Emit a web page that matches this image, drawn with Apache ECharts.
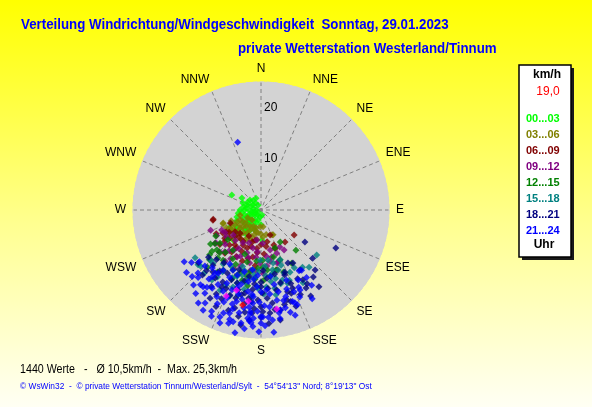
<!DOCTYPE html>
<html>
<head>
<meta charset="utf-8">
<script src="https://cdn.jsdelivr.net/npm/echarts@6/dist/echarts.min.js"></script>
<style>
html, body { margin: 0; padding: 0; }
#main { width: 592px; height: 407px; }
</style>
</head>
<body>
<div id="main"></div>
<script>
'use strict'
// Windrose scatter, 29.01.2023 - points are [km/h, direction in degrees]

var dirNames = ['N', 'NNE', 'NE', 'ENE', 'E', 'ESE', 'SE', 'SSE', 'S', 'SSW', 'SW', 'WSW', 'W', 'WNW', 'NW', 'NNW'];
var ringLabels = [10, 20];

var hourBands = ['00...03', '03...06', '06...09', '09...12', '12...15', '15...18', '18...21', '21...24'];
var bandColors = ['#00ff00', '#808000', '#800000', '#800080', '#008000', '#008080', '#000080', '#0000ff'];

var h0003 = [[6.4,297],[3.8,291],[2.9,312],[2.5,337],[1.1,329],[2.9,290],[4.1,270],[4.9,254],[3.3,253],[1.8,257],
    [2.3,211],[1.4,188],[3.6,216],[4.2,236],[6.3,231],[8.0,223],[4.7,213],[4.1,197],[2.9,180],[0.7,236],
    [1.0,169],[4.4,302],[2.9,278],[1.9,302],[5.9,178],[7.0,240],[3.1,232],[2.0,240],[1.5,280],[3.8,262],
    [5.2,246],[2.6,200],[3.4,225],[4.6,222],[5.5,230],[1.2,215],[2.2,265],[3.0,245],[5.6,212],[6.8,225],
    [2.4,320],[3.5,280],[7.0,241],[3.0,300],[2.1,290],[3.2,270],[4.5,262],[1.6,230],[2.7,225],[3.9,244],
    [4.4,208],[5.0,220],[2.0,195],[3.7,200],[0.9,270],[1.7,320],[2.5,250],[5.8,238],[6.0,222],[4.0,228],
    [3.3,210],[1.3,250],[2.8,235]];
var h0306 = [[5.4,154],[5.3,176],[7.9,250],[5.4,229],[4.5,209],[7.0,240],[5.2,243],[3.3,183],[7.8,251],[4.2,256],
    [2.6,222],[5.3,156],[4.5,187],[5.3,211],[7.4,235],[5.9,240],[3.3,173],[4.8,227],[6.2,220],[6.6,232],
    [4.0,200],[3.8,215],[6.0,205],[5.0,195],[4.2,238],[6.9,214],[5.8,188],[7.2,226],[3.6,195],[4.9,168],
    [6.4,245],[8.4,232],[3.0,240],[6.3,198],[4.5,245],[5.6,218],[6.8,238],[4.3,222],[7.6,243],[6.1,228],
    [5.1,235],[3.5,205],[6.7,208],[4.7,180],[7.9,221],[5.5,200],[3.9,230],[6.2,250],[7.0,232],[4.4,192]];
var h0609 = [[9.5,259],[8.1,127],[7.8,143],[8.7,239],[8.5,217],[7.9,200],[6.0,191],[6.3,169],[5.2,160],[6.1,222],
    [8.2,228],[12.1,165],[9.6,258],[7.0,210],[8.9,205],[9.2,222],[6.8,180],[7.4,195],[10.0,215],[9.8,195],
    [7.6,235],[6.6,230],[8.4,185],[10.6,200],[7.2,172],[5.6,205],[9.0,232],[8.0,160],[10.9,186],[6.5,247],
    [7.7,207],[8.8,213],[9.4,229],[6.9,218],[8.0,238],[10.3,208],[7.5,186],[9.3,190],[6.4,195],[11.0,220],
    [8.6,176],[7.1,225],[9.9,242],[10.5,230],[7.3,160]];
var h0912 = [[11.1,234],[10.8,221],[10.3,207],[10.6,192],[10.4,181],[9.4,167],[10.7,162],[8.1,153],[8.0,167],[7.3,209],
    [5.9,188],[7.3,228],[8.6,243],[6.5,177],[10.9,234],[9.0,160],[10.8,163],[9.5,214],[8.8,198],[11.6,200],
    [9.7,226],[8.2,185],[12.0,190],[7.8,220],[11.2,212],[9.2,173],[12.4,178],[6.8,200],[10.0,240],[8.5,232],
    [9.9,204],[10.1,218],[11.5,225],[8.7,210],[9.3,186],[11.0,174],[10.2,170],[12.6,205],[8.3,238],[9.6,195],
    [11.8,185],[7.6,192],[12.2,215],[10.6,248],[9.0,150]];
var h1215 = [[10.4,139],[7.3,149],[7.9,160],[11.6,228],[11.6,224],[15.3,223],[12.3,217],[12.9,205],[12.3,190],[11.8,174],
    [8.7,228],[9.8,178],[10.4,159],[10.3,231],[13.3,229],[11.1,234],[12.8,198],[13.6,185],[11.0,210],[10.5,195],
    [13.9,212],[9.6,215],[12.1,166],[14.2,195],[11.4,183],[13.0,172],[10.2,240],[14.6,203],[9.2,200],[12.6,222],
    [11.7,205],[12.5,230],[10.8,220],[13.2,192],[11.2,178],[12.9,160],[14.8,215],[10.0,185],[13.5,200],[14.0,226],
    [11.9,236],[12.0,150],[9.5,165],[13.8,178],[15.0,190]];
var h1518 = [[14.0,129],[13.8,144],[13.4,155],[14.3,163],[12.2,164],[10.6,167],[9.9,172],[10.4,159],[16.3,229],[14.0,222],
    [15.0,198],[14.4,203],[16.7,215],[17.6,207],[13.2,196],[11.8,188],[9.8,181],[16.1,227],[12.8,176],[14.9,183],
    [15.5,170],[13.5,190],[12.4,208],[15.8,192],[13.0,150],[14.6,140],[16.4,178],[12.9,215],[15.2,160],[11.6,198],
    [17.0,186],[13.7,168],[14.2,212],[12.0,182],[13.3,185],[15.1,176],[16.0,200],[12.6,170],[14.8,158],[11.0,176],
    [17.2,195],[15.6,213],[13.9,225],[16.8,170],[12.3,195],[14.5,192],[16.4,150],[11.5,160],[15.9,234],[13.1,160],
    [14.1,172],[15.4,182],[12.7,186],[16.2,205],[13.8,200],[11.9,169],[14.9,165],[17.9,200],[16.6,222]];
var h1821 = [[16.4,117],[10.6,126],[13.8,133],[15.8,138],[15.9,149],[16.5,158],[18.8,162],[16.8,162],[14.7,165],[13.5,160],
    [12.1,149],[13.0,159],[15.9,208],[19.8,195],[20.2,189],[20.2,185],[19.9,179],[19.9,169],[18.3,164],[17.3,160],
    [18.3,173],[17.6,182],[15.9,169],[16.2,179],[17.7,200],[16.9,207],[13.8,228],[15.9,222],[14.3,221],[17.1,222],
    [14.0,208],[15.0,198],[16.5,191],[11.6,153],[14.0,147],[19.4,150],[21.0,180],[17.0,193],[13.2,190],[14.5,185],
    [18.6,208],[20.6,198],[12.6,215],[15.4,175],[21.6,186],[16.0,214],[18.0,186],[19.0,204],[12.4,200],[22.2,176],
    [16.6,142],[15.3,218],[15.0,180],[17.3,176],[18.6,190],[16.2,196],[19.3,184],[14.2,193],[17.8,213],[20.2,175],
    [21.2,192],[18.2,155],[17.0,148],[15.5,158],[19.0,166],[13.4,175],[16.0,230],[20.8,205],[22.8,190],[18.8,143],
    [14.8,203],[17.4,188],[15.6,186],[17.9,196],[19.6,172],[16.8,204],[14.4,214],[13.0,222],[18.9,180],[20.0,160],
    [21.8,170],[15.2,152],[17.6,150],[12.8,168],[11.8,178],[14.1,180],[19.9,210]];
var h2124 = [[18.8,217],[21.2,211],[22.6,210],[22.4,201],[21.1,197],[22.5,194],[22.4,190],[21.3,187],[22.1,185],[22.1,180],
    [24.0,174],[25.3,189],[19.8,159],[21.6,162],[19.7,166],[17.7,146],[17.4,154],[18.0,212],[19.0,207],[18.4,201],
    [18.1,236],[18.8,219],[18.4,215],[14.8,220],[16.1,216],[14.9,214],[14.2,146],[15.9,146],[16.8,154],[18.6,156],
    [19.3,160],[19.9,169],[21.6,174],[20.9,179],[14.0,341],[13.5,200],[14.2,190],[15.0,183],[15.6,176],[16.3,168],
    [17.0,195],[17.5,205],[18.3,185],[18.7,178],[19.2,197],[19.8,182],[20.5,192],[21.0,176],[16.8,210],[14.8,170],
    [12.5,195],[12.8,183],[13.9,212],[15.2,216],[17.9,170],[20.2,205],[21.8,186],[16.1,189],[18.9,161],[17.2,158],
    [13.1,172],[11.8,188],[16.6,200],[20.4,170],[19.4,190],[15.8,205],[23.0,196],[17.4,225],[22.8,184],[18.0,223],
    [14.0,148],[15.5,152],[14.5,205],[16.0,180],[17.8,192],[19.0,175],[20.0,186],[21.4,200],[22.0,206],[23.4,188],
    [20.8,164],[18.2,166],[16.9,217],[19.6,214],[15.5,225],[13.6,186],[17.0,185],[21.5,170],[23.8,181],[22.2,196],
    [19.4,202],[20.8,180],[15.0,195],[18.5,195],[16.5,174],[24.5,192],[19.0,230],[20.0,150],[17.0,233],[21.9,214],
    [20.7,218],[19.7,222],[22.9,205],[23.5,200],[20.1,196],[18.0,181],[16.6,186],[15.8,197],[19.1,187],[21.2,184],
    [22.6,178],[17.6,164],[16.2,162],[14.6,160],[13.0,205],[12.2,210],[15.7,230],[18.7,226],[20.4,186]];
var extraPts = [[18.1,202],[16.4,197],[18.0,188],[19.6,171]];
var lastPt = [[18.9,191]];

var bandData = [h0003, h0306, h0609, h0912, h1215, h1518, h1821, h2124];

var series = bandData.map(function (d, i) {
    return {
        name: hourBands[i],
        type: 'scatter',
        coordinateSystem: 'polar',
        symbol: 'diamond',
        symbolSize: 7,
        itemStyle: { color: bandColors[i] },
        data: d
    };
});
series.push({
    name: 'extra', type: 'scatter', coordinateSystem: 'polar', symbol: 'diamond', symbolSize: 7,
    itemStyle: { color: '#ff00ff' }, data: extraPts
});
series.push({
    name: 'aktuell', type: 'scatter', coordinateSystem: 'polar', symbol: 'diamond', symbolSize: 7,
    itemStyle: { color: '#ff0000' }, data: lastPt
});

var titleFont = 'bold 14px Liberation Sans, Arial, sans-serif';

var option = {
    animation: false,
    backgroundColor: {
        type: 'linear', x: 0, y: 0, x2: 0, y2: 1,
        colorStops: [
            { offset: 0, color: '#ffff00' },
            { offset: 0.55, color: '#ffff90' },
            { offset: 1, color: '#fffff4' }
        ]
    },
    textStyle: { fontFamily: 'Liberation Sans, Arial, sans-serif' },
    polar: {
        center: [261, 210],
        radius: 128
    },
    angleAxis: {
        type: 'value',
        min: 0,
        max: 360,
        interval: 22.5,
        startAngle: 90,
        clockwise: true,
        axisLine: { show: true, lineStyle: { color: '#d3d3d3' } },
        axisTick: { show: false },
        axisLabel: {
            color: '#000',
            fontSize: 12,
            margin: 7,
            align: 'center',
            verticalAlign: 'middle',
            formatter: function (v) {
                var k = Math.round(v / 22.5);
                return k < 16 ? dirNames[k] : '';
            }
        },
        splitLine: { show: true, lineStyle: { color: '#808080', type: [4, 3], width: 1 } }
    },
    radiusAxis: {
        type: 'value',
        min: 0,
        max: 25,
        interval: 10,
        axisLine: { show: false },
        axisTick: { show: false },
        axisLabel: {
            color: '#000',
            fontSize: 12,
            align: 'left',
            margin: -3,
            formatter: function (v) {
                return ringLabels.indexOf(v) >= 0 ? String(v) : '';
            }
        },
        splitLine: { show: true, lineStyle: { color: ['#d3d3d3', '#808080', '#808080', '#d3d3d3'], type: [4, 3], width: 1 } },
        splitArea: { show: true, areaStyle: { color: ['#d3d3d3'] } }
    },
    legend: {
        data: hourBands.map(function (n, i) {
            return { name: n, textStyle: { color: bandColors[i] } };
        }),
        orient: 'vertical',
        left: 516,
        top: 106,
        itemWidth: 0,
        itemHeight: 0,
        itemGap: 0,
        selectedMode: false,
        itemStyle: { opacity: 0 },
        textStyle: { fontSize: 11, fontWeight: 'bold', lineHeight: 16, fontFamily: 'Liberation Sans, Arial, sans-serif' },
        z: 10
    },
    graphic: [
        { type: 'text', x: 21, y: 25, scaleX: 0.95, style: { text: 'Verteilung Windrichtung/Windgeschwindigkeit  Sonntag, 29.01.2023', fill: '#0000ff', font: titleFont, verticalAlign: 'middle' }, z: 3 },
        { type: 'text', x: 238, y: 49, scaleX: 0.95, style: { text: 'private Wetterstation Westerland/Tinnum', fill: '#0000ff', font: titleFont, verticalAlign: 'middle' }, z: 3 },
        { type: 'rect', shape: { x: 522, y: 68, width: 52, height: 192 }, style: { fill: '#1a1a1a' }, z: 1 },
        { type: 'rect', shape: { x: 519, y: 65, width: 52, height: 192 }, style: { fill: '#ffffff', stroke: '#000', lineWidth: 1.5 }, z: 2 },
        { type: 'text', x: 547, y: 75, style: { text: 'km/h', fill: '#000', font: 'bold 12px Liberation Sans, Arial', align: 'center', verticalAlign: 'middle' }, z: 3 },
        { type: 'text', x: 548, y: 92, style: { text: '19,0', fill: '#ff0000', font: '12px Liberation Sans, Arial', align: 'center', verticalAlign: 'middle' }, z: 3 },
        { type: 'text', x: 544, y: 245, style: { text: 'Uhr', fill: '#000', font: 'bold 12px Liberation Sans, Arial', align: 'center', verticalAlign: 'middle' }, z: 3 },
        { type: 'text', x: 20, y: 370, scaleX: 0.89, style: { text: '1440 Werte   -   Ø 10,5km/h  -  Max. 25,3km/h', fill: '#000', font: '12px Liberation Sans, Arial, sans-serif', verticalAlign: 'middle' }, z: 3 },
        { type: 'text', x: 20, y: 387, scaleX: 0.93, style: { text: '© WsWin32  -  © private Wetterstation Tinnum/Westerland/Sylt  -  54°54\'13" Nord; 8°19\'13" Ost', fill: '#0000ff', font: '9px Liberation Sans, Arial, sans-serif', verticalAlign: 'middle' }, z: 3 }
    ],
    series: series
};

var myChart = echarts.init(document.getElementById('main'));
myChart.setOption(option);
</script>
</body>
</html>
